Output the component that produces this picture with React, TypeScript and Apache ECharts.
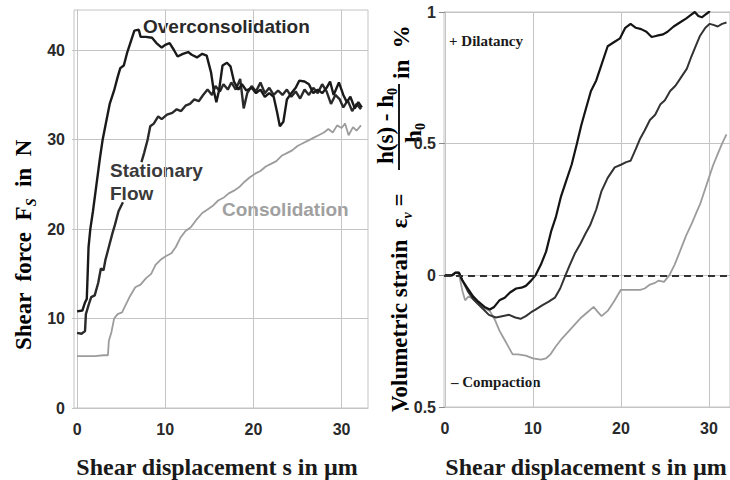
import React, { useEffect, useRef } from "react";
import * as echarts from "echarts";

const xTicks = [0, 10, 20, 30];
const forceTicks = [0, 10, 20, 30, 40];

const overconsolidation: [number, number][] = [
  [0, 10.8], [0.6, 10.9], [0.9, 11.8], [1.1, 12.2], [1.2, 15], [1.3, 18], [1.5, 20], [1.8, 22], [2.2, 25],
  [2.6, 28], [2.9, 30], [3.3, 32], [3.7, 34], [4.2, 35.5], [4.6, 37], [4.9, 38], [5.3, 38.3], [5.7, 39.8],
  [6.1, 41], [6.5, 42.2], [7.0, 42.3], [7.2, 41.5], [7.8, 41.5], [8.5, 41.4], [9.0, 40.8], [9.6, 40.3],
  [10.0, 40.6], [10.5, 40.8], [11.0, 40.0], [11.4, 39.3], [12.0, 39.6], [12.6, 39.8], [13.0, 39.5],
  [13.6, 39.2], [14.2, 39.6], [14.7, 39.4], [15.2, 37.5], [15.5, 35.5], [15.8, 34.2], [16.1, 35.5],
  [16.5, 38.3], [17.0, 38.6], [17.4, 38.2], [17.8, 36.5], [18.3, 35.6], [18.7, 36.2], [19.2, 35.5],
  [19.8, 35.8], [20.3, 35.2], [20.8, 35.6], [21.3, 34.8], [21.8, 35.2], [22.3, 34.8], [22.7, 33],
  [23.0, 31.5], [23.4, 32], [23.8, 34.5], [24.3, 35.2], [24.8, 35.8], [25.2, 36.6], [25.8, 36.5],
  [26.3, 36.2], [26.8, 35.2], [27.3, 35.6], [27.8, 35.2], [28.3, 35.8], [28.7, 36.5], [29.1, 35.0],
  [29.7, 36.4], [30.2, 35.0], [30.6, 34.2], [31.0, 34.8], [31.5, 33.5], [31.9, 34.2], [32.3, 33.6],
];

const stationaryFlow: ([number, number] | [number, null])[] = [
  [0, 8.4], [0.5, 8.3], [0.9, 8.6], [1.0, 10.5], [1.3, 11.5], [1.6, 12.4], [2.0, 12.6], [2.4, 14],
  [2.7, 15.6], [3.0, 15.4], [3.2, 16.5], [3.6, 18], [4.0, 19.5], [4.3, 20.5], [4.7, 22], [5.2, 23],
  [6.2, null],
  [7.3, 27.5], [7.6, 28.5], [8.0, 30], [8.3, 31.5], [8.7, 31.8], [9.2, 32.6], [9.6, 32.3], [10.2, 32.8],
  [10.8, 33.0], [11.3, 33.4], [11.8, 33.2], [12.3, 33.8], [12.8, 34.0], [13.3, 34.5], [13.8, 34.3],
  [14.3, 35.0], [14.8, 35.6], [15.3, 35.0], [15.7, 36.0], [16.2, 35.4], [16.6, 36.2], [17.1, 35.6],
  [17.5, 36.4], [18.0, 35.6], [18.5, 36.8], [18.9, 33.5], [19.3, 35.2], [19.8, 36.0], [20.3, 35.4],
  [20.8, 36.4], [21.3, 35.2], [21.8, 35.8], [22.3, 35.0], [22.8, 35.5], [23.3, 35.0], [23.8, 35.6],
  [24.3, 34.8], [24.8, 35.4], [25.3, 34.6], [25.8, 35.6], [26.3, 35.0], [26.8, 35.8], [27.3, 35.2],
  [27.8, 36.2], [28.3, 35.4], [28.8, 34.0], [29.3, 35.0], [29.8, 34.5], [30.2, 33.6], [30.7, 34.4],
  [31.2, 33.2], [31.7, 34.0], [32.2, 33.4],
];

const consolidation: [number, number][] = [
  [0, 5.8], [1, 5.8], [2, 5.8], [3, 5.9], [3.5, 5.9], [3.6, 7.5], [3.9, 8.5], [4.2, 10], [4.6, 10.5],
  [5.1, 10.7], [5.5, 11.5], [6.0, 12.5], [6.6, 13.5], [7.2, 13.8], [7.8, 14.5], [8.4, 15], [8.9, 16],
  [9.5, 16.6], [10.1, 17], [10.7, 17.3], [11.2, 18], [11.7, 19], [12.3, 19.8], [12.9, 20.2], [13.5, 21],
  [14.2, 21.8], [14.8, 22.2], [15.4, 22.6], [16, 23.2], [16.6, 23.5], [17.2, 24], [17.8, 24.3],
  [18.4, 24.7], [19, 25.3], [19.6, 25.8], [20.2, 26.2], [20.8, 26.5], [21.4, 27], [22, 27.3],
  [22.6, 27.6], [23.2, 28.2], [23.8, 28.5], [24.4, 28.8], [25, 29.3], [25.6, 29.6], [26.2, 29.9],
  [26.8, 30.2], [27.4, 30.5], [28, 30.8], [28.5, 31.2], [29, 30.8], [29.5, 31.6], [30, 31.3],
  [30.4, 31.8], [30.8, 30.5], [31.3, 31.4], [31.7, 31.0], [32.2, 31.6],
];

const strainA: [number, number][] = [
  [0, 0], [0.8, 0], [1.2, 0.01], [1.6, 0.01], [2.0, -0.02], [2.6, -0.05], [3.2, -0.08], [3.8, -0.1],
  [4.5, -0.12], [5.1, -0.13], [5.6, -0.12], [6.2, -0.095], [6.8, -0.085], [7.4, -0.065], [8.1, -0.05],
  [8.7, -0.047], [9.2, -0.04], [9.8, -0.02], [10.3, 0.0], [10.9, 0.04], [11.5, 0.09], [12.1, 0.17],
  [12.6, 0.22], [13.2, 0.3], [13.7, 0.35], [14.4, 0.42], [15.0, 0.5], [15.5, 0.57], [16.0, 0.63],
  [16.6, 0.7], [17.2, 0.74], [17.8, 0.8], [18.5, 0.87], [19.2, 0.885], [19.9, 0.9], [20.5, 0.94],
  [21.1, 0.955], [21.7, 0.94], [22.3, 0.935], [22.9, 0.925], [23.5, 0.905], [24.1, 0.91], [24.8, 0.915],
  [25.3, 0.925], [26.0, 0.945], [26.7, 0.96], [27.4, 0.975], [28.0, 0.99], [28.4, 1.0], [28.8, 0.985],
  [29.2, 0.98], [29.6, 0.99], [30.0, 1.0], [30.3, 1.02],
];

const strainB: [number, number][] = [
  [0, 0], [0.8, 0], [1.2, 0.01], [1.6, 0.01], [2.0, -0.02], [2.6, -0.06], [3.2, -0.09], [3.8, -0.11],
  [4.4, -0.13], [5.0, -0.15], [5.8, -0.16], [6.5, -0.155], [7.3, -0.15], [8.0, -0.16], [8.6, -0.165],
  [9.2, -0.155], [9.8, -0.14], [10.3, -0.13], [11.0, -0.115], [11.8, -0.1], [12.5, -0.085], [13.1, -0.05],
  [13.7, 0], [14.2, 0.04], [14.8, 0.085], [15.4, 0.12], [16.0, 0.16], [16.5, 0.19], [17.2, 0.25],
  [17.8, 0.32], [18.5, 0.37], [19.3, 0.41], [20.0, 0.42], [20.6, 0.43], [21.1, 0.435], [21.7, 0.48],
  [22.2, 0.52], [22.7, 0.55], [23.3, 0.59], [23.9, 0.61], [24.5, 0.65], [25.0, 0.665], [25.6, 0.7],
  [26.2, 0.72], [26.8, 0.75], [27.5, 0.785], [28.0, 0.83], [28.5, 0.87], [29.0, 0.91], [29.6, 0.94],
  [30.1, 0.955], [30.6, 0.95], [31.0, 0.945], [31.5, 0.955], [32.0, 0.96],
];

const strainC: [number, number][] = [
  [0, 0], [0.8, 0], [1.2, 0.01], [1.6, 0.005], [2.0, -0.06], [2.3, -0.095], [2.7, -0.08], [3.2, -0.09],
  [3.8, -0.11], [4.5, -0.125], [5.1, -0.135], [5.7, -0.17], [6.2, -0.21], [6.7, -0.24], [7.2, -0.27],
  [7.7, -0.3], [8.3, -0.3], [9.2, -0.305], [10.0, -0.315], [10.9, -0.32], [11.5, -0.315], [12.0, -0.3],
  [12.6, -0.27], [13.3, -0.24], [14.0, -0.215], [14.8, -0.185], [15.5, -0.16], [16.2, -0.14],
  [16.9, -0.12], [17.4, -0.14], [17.8, -0.155], [18.5, -0.135], [19.2, -0.1], [20.0, -0.055],
  [20.8, -0.055], [21.6, -0.055], [22.2, -0.055], [22.7, -0.05], [23.3, -0.035], [23.8, -0.03],
  [24.3, -0.02], [24.9, -0.025], [25.5, 0], [26.1, 0.04], [26.7, 0.09], [27.4, 0.15], [28.1, 0.2],
  [28.6, 0.24], [29.0, 0.27], [29.5, 0.32], [30.0, 0.37], [30.5, 0.42], [31.0, 0.46], [31.5, 0.5],
  [32.0, 0.535],
];

const SANS = "'Liberation Sans', Arial, sans-serif";
const SERIF = "'Liberation Serif', 'Times New Roman', serif";
const GRID_C = "#c4c4c4";

export default function App() {
  const ref = useRef<HTMLDivElement>(null);

  useEffect(() => {
    if (!ref.current) return;
    const chart = echarts.init(ref.current, undefined, { renderer: "svg" });

    const axisLabel = {
      fontFamily: SANS,
      fontWeight: "bold" as const,
      fontSize: 16,
      color: "#2a2a2a",
    };
    const xAxisBase = (gridIndex: number, min: number, max: number) => ({
      type: "value" as const,
      gridIndex,
      min,
      max,
      axisLine: { show: true, lineStyle: { color: GRID_C } },
      axisTick: { show: false, customValues: xTicks },
      axisLabel: { ...axisLabel, margin: 13, customValues: xTicks },
      splitLine: { show: true, lineStyle: { color: GRID_C, width: 1 } },
    });

    const titleRich = {
      b: { fontFamily: SERIF, fontWeight: "bold" as const, fontSize: 23, color: "#1a1a1a", lineHeight: 30 },
      s: {
        fontFamily: SERIF,
        fontWeight: "bold" as const,
        fontStyle: "italic" as const,
        fontSize: 14,
        color: "#1a1a1a",
        lineHeight: 30,
        verticalAlign: "bottom" as const,
      },
      p: { fontFamily: SERIF, fontWeight: "bold" as const, fontSize: 23, color: "#1a1a1a", lineHeight: 28 },
      q: {
        fontFamily: SERIF,
        fontWeight: "bold" as const,
        fontSize: 14,
        color: "#1a1a1a",
        lineHeight: 28,
        verticalAlign: "bottom" as const,
      },
    };

    chart.setOption({
      animation: false,
      backgroundColor: "#ffffff",
      grid: [
        { left: 74, top: 10, width: 294, height: 398, show: true, borderColor: GRID_C, borderWidth: 1 },
        { left: 444, top: 12, width: 290, height: 395, show: true, borderColor: GRID_C, borderWidth: 1 },
      ],
      xAxis: [xAxisBase(0, -0.35, 33), xAxisBase(1, -0.1, 32.4)],
      yAxis: [
        {
          type: "value",
          gridIndex: 0,
          min: 0,
          max: 44.5,
          axisLine: { show: true, lineStyle: { color: GRID_C } },
          axisTick: { show: true, length: 5, lineStyle: { color: GRID_C }, customValues: forceTicks },
          axisLabel: { ...axisLabel, margin: 9, customValues: forceTicks },
          splitLine: { show: true, lineStyle: { color: GRID_C, width: 1 } },
        },
        {
          type: "value",
          gridIndex: 1,
          min: -0.5,
          max: 1,
          interval: 0.5,
          axisLine: { show: true, lineStyle: { color: GRID_C } },
          axisTick: { show: true, length: 6, lineStyle: { color: "#888" } },
          axisLabel: {
            ...axisLabel,
            margin: 8,
            formatter: (v: number) => (v < 0 ? "- " + Math.abs(v) : String(v)),
          },
          splitLine: { show: true, lineStyle: { color: GRID_C, width: 1 } },
        },
      ],
      series: [
        {
          type: "line",
          name: "Consolidation",
          xAxisIndex: 0,
          yAxisIndex: 0,
          data: consolidation,
          showSymbol: false,
          lineStyle: { color: "#9c9c9c", width: 1.8 },
        },
        {
          type: "line",
          name: "Stationary Flow",
          xAxisIndex: 0,
          yAxisIndex: 0,
          data: stationaryFlow,
          showSymbol: false,
          connectNulls: false,
          lineStyle: { color: "#2a2a2a", width: 2.4 },
        },
        {
          type: "line",
          name: "Overconsolidation",
          xAxisIndex: 0,
          yAxisIndex: 0,
          data: overconsolidation,
          showSymbol: false,
          lineStyle: { color: "#1a1a1a", width: 2.4 },
        },
        {
          type: "line",
          name: "C",
          xAxisIndex: 1,
          yAxisIndex: 1,
          data: strainC,
          showSymbol: false,
          lineStyle: { color: "#9c9c9c", width: 1.8 },
          markLine: {
            silent: true,
            symbol: ["none", "none"],
            label: { show: false },
            lineStyle: { color: "#333", type: [7, 5], width: 2 },
            data: [{ yAxis: 0 }],
          },
        },
        {
          type: "line",
          name: "B",
          xAxisIndex: 1,
          yAxisIndex: 1,
          data: strainB,
          showSymbol: false,
          lineStyle: { color: "#333333", width: 2 },
        },
        {
          type: "line",
          name: "A",
          xAxisIndex: 1,
          yAxisIndex: 1,
          data: strainA,
          showSymbol: false,
          lineStyle: { color: "#141414", width: 2.2 },
        },
      ],
      graphic: [
        {
          type: "text",
          x: 143,
          y: 26,
          style: {
            text: "Overconsolidation",
            font: `bold 19px ${SANS}`,
            fill: "#2a2a2a",
            textVerticalAlign: "middle",
          },
        },
        {
          type: "text",
          x: 110,
          y: 170,
          style: { text: "Stationary", font: `bold 19px ${SANS}`, fill: "#3a3a3a", textVerticalAlign: "middle" },
        },
        {
          type: "text",
          x: 110,
          y: 193,
          style: { text: "Flow", font: `bold 19px ${SANS}`, fill: "#3a3a3a", textVerticalAlign: "middle" },
        },
        {
          type: "text",
          x: 222,
          y: 209,
          style: { text: "Consolidation", font: `bold 19px ${SANS}`, fill: "#a0a0a0", textVerticalAlign: "middle" },
        },
        {
          type: "text",
          x: 449,
          y: 41,
          style: { text: "+ Dilatancy", font: `bold 15px ${SERIF}`, fill: "#1a1a1a", textVerticalAlign: "middle" },
        },
        {
          type: "text",
          x: 451,
          y: 382,
          style: { text: "– Compaction", font: `bold 15px ${SERIF}`, fill: "#1a1a1a", textVerticalAlign: "middle" },
        },
        {
          type: "text",
          x: 217,
          y: 467,
          style: {
            text: "Shear displacement s in µm",
            font: `bold 24px ${SERIF}`,
            fill: "#1a1a1a",
            textAlign: "center",
            textVerticalAlign: "middle",
          },
        },
        {
          type: "text",
          x: 586,
          y: 467,
          style: {
            text: "Shear displacement s in µm",
            font: `bold 24px ${SERIF}`,
            fill: "#1a1a1a",
            textAlign: "center",
            textVerticalAlign: "middle",
          },
        },
        {
          type: "text",
          x: 23,
          y: 245,
          rotation: Math.PI / 2,
          style: {
            text: "{b|Shear  force  F}{s|S}{b|  in  N}",
            rich: titleRich,
            textAlign: "center",
            textVerticalAlign: "middle",
          },
        },
        {
          type: "text",
          x: 399,
          y: 412,
          rotation: Math.PI / 2,
          style: {
            text: "{b|Volumetric strain  ε}{s|v}{b| =}",
            rich: titleRich,
            textAlign: "left",
            textVerticalAlign: "middle",
          },
        },
        {
          type: "text",
          x: 385,
          y: 126,
          rotation: Math.PI / 2,
          style: {
            text: "{p|h(s) - h}{q|0}",
            rich: titleRich,
            textAlign: "center",
            textVerticalAlign: "middle",
          },
        },
        {
          type: "line",
          shape: { x1: 399, y1: 170, x2: 399, y2: 84 },
          style: { stroke: "#1a1a1a", lineWidth: 2 },
        },
        {
          type: "text",
          x: 413,
          y: 133,
          rotation: Math.PI / 2,
          style: {
            text: "{p|h}{q|0}",
            rich: titleRich,
            textAlign: "center",
            textVerticalAlign: "middle",
          },
        },
        {
          type: "text",
          x: 401,
          y: 79,
          rotation: Math.PI / 2,
          style: {
            text: "{b|in  %}",
            rich: titleRich,
            textAlign: "left",
            textVerticalAlign: "middle",
          },
        },
      ],
    });

    return () => chart.dispose();
  }, []);

  return <div ref={ref} style={{ width: 730, height: 480, position: "absolute", left: 0, top: 0 }} />;
}
